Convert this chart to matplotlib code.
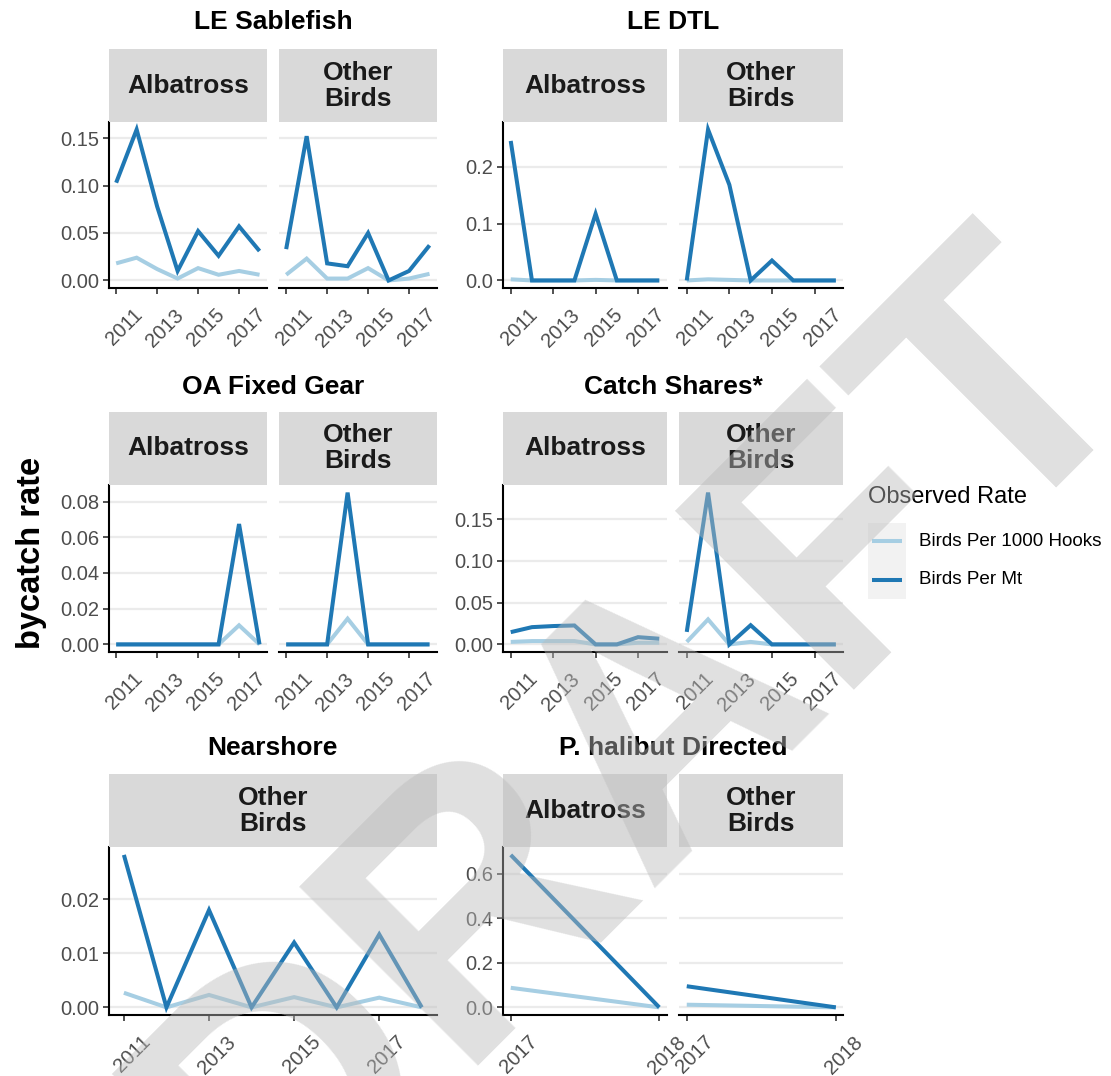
import matplotlib
matplotlib.use('Agg')
import matplotlib.pyplot as plt
from matplotlib.patches import Rectangle
from matplotlib.lines import Line2D
from matplotlib.transforms import ScaledTranslation

plt.rcParams['font.family'] = ['Liberation Sans', 'DejaVu Sans']

# ---------------- data ----------------
years = [2011, 2012, 2013, 2014, 2015, 2016, 2017, 2018]
halibut_years = [2017, 2018]

sable_alb_mt = [0.103, 0.159, 0.078, 0.010, 0.052, 0.026, 0.057, 0.031]
sable_alb_hooks = [0.018, 0.024, 0.012, 0.002, 0.013, 0.006, 0.010, 0.006]
sable_oth_mt = [0.033, 0.152, 0.018, 0.015, 0.050, 0.000, 0.010, 0.037]
sable_oth_hooks = [0.006, 0.023, 0.002, 0.002, 0.013, 0.000, 0.002, 0.007]

dtl_alb_mt = [0.245, 0.0, 0.0, 0.0, 0.117, 0.0, 0.0, 0.0]
dtl_alb_hooks = [0.002, 0.0, 0.0, 0.0, 0.001, 0.0, 0.0, 0.0]
dtl_oth_mt = [0.0, 0.265, 0.168, 0.0, 0.035, 0.0, 0.0, 0.0]
dtl_oth_hooks = [0.0, 0.002, 0.001, 0.0, 0.0, 0.0, 0.0, 0.0]

oa_alb_mt = [0.0, 0.0, 0.0, 0.0, 0.0, 0.0, 0.0674, 0.0]
oa_alb_hooks = [0.0, 0.0, 0.0, 0.0, 0.0, 0.0, 0.0107, 0.0]
oa_oth_mt = [0.0, 0.0, 0.0, 0.085, 0.0, 0.0, 0.0, 0.0]
oa_oth_hooks = [0.0, 0.0, 0.0, 0.0144, 0.0, 0.0, 0.0, 0.0]

cs_alb_mt = [0.0147, 0.0207, 0.022, 0.0227, 0.0, 0.0, 0.0087, 0.0068]
cs_alb_hooks = [0.003, 0.004, 0.004, 0.004, 0.0, 0.0, 0.002, 0.002]
cs_oth_mt = [0.015, 0.182, 0.0, 0.023, 0.0, 0.0, 0.0, 0.0]
cs_oth_hooks = [0.003, 0.030, 0.0, 0.003, 0.0, 0.0, 0.0, 0.0]

ns_oth_mt = [0.0282, 0.0, 0.018, 0.0, 0.012, 0.0, 0.0135, 0.0]
ns_oth_hooks = [0.0027, 0.0, 0.0023, 0.0, 0.0019, 0.0, 0.0018, 0.0]

hal_alb_mt = [0.685, 0.0]
hal_alb_hooks = [0.088, 0.0]
hal_oth_mt = [0.095, 0.0]
hal_oth_hooks = [0.012, 0.0]

series_labels = ['Birds Per 1000 Hooks', 'Birds Per Mt']
legend_title = 'Observed Rate'
y_title = 'bycatch rate'

year_ticks = [2011, 2013, 2015, 2017]
halibut_ticks = [2017, 2018]

sable_yticks = [0.00, 0.05, 0.10, 0.15]
dtl_yticks = [0.0, 0.1, 0.2]
oa_yticks = [0.00, 0.02, 0.04, 0.06, 0.08]
cs_yticks = [0.00, 0.05, 0.10, 0.15]
ns_yticks = [0.00, 0.01, 0.02]
hal_yticks = [0.0, 0.2, 0.4, 0.6]

# ---------------- style ----------------
W, H = 1111, 1076
DPI = 100
C_HOOKS = '#a6cee3'
C_MT = '#1f78b4'
STRIP = '#d9d9d9'
LW = 2.9

fig = plt.figure(figsize=(W / DPI, H / DPI), dpi=DPI)
fig.patch.set_facecolor('white')


def add_px_axes(x0, x1, y0, y1):
    return fig.add_axes([x0 / W, 1 - y1 / H, (x1 - x0) / W, (y1 - y0) / H])


def add_strip(x0, x1, y0, y1, label):
    sax = add_px_axes(x0, x1, y0, y1)
    sax.set_facecolor(STRIP)
    sax.set_xticks([])
    sax.set_yticks([])
    for s in sax.spines.values():
        s.set_visible(False)
    sax.text(0.5, 0.5, label, ha='center', va='center', fontsize=19,
             fontweight='bold', color='#1a1a1a', linespacing=1.12,
             transform=sax.transAxes)


def yrange(arrs):
    lo = min(min(a) for a in arrs)
    hi = max(max(a) for a in arrs)
    r = hi - lo
    return lo - 0.05 * r, hi + 0.05 * r


def panel(x0, x1, y0, y1, xs, hooks, mt, ylim, yticks, ydec, xticks,
          show_y, strip_label, strip_top):
    ax = add_px_axes(x0, x1, y0, y1)
    add_strip(x0, x1, strip_top, y0, strip_label)
    xr = xs[-1] - xs[0]
    ax.set_xlim(xs[0] - 0.05 * xr, xs[-1] + 0.05 * xr)
    ax.set_ylim(*ylim)
    ax.plot(xs, hooks, color=C_HOOKS, lw=LW, solid_capstyle='butt',
            solid_joinstyle='miter', zorder=3)
    ax.plot(xs, mt, color=C_MT, lw=LW, solid_capstyle='butt',
            solid_joinstyle='miter', zorder=4)
    ax.set_yticks(yticks)
    ax.grid(axis='y', color='#ebebeb', lw=1.6, zorder=0)
    ax.set_axisbelow(True)
    ax.spines['top'].set_visible(False)
    ax.spines['right'].set_visible(False)
    ax.spines['bottom'].set_linewidth(1.5)
    ax.spines['bottom'].set_color('black')
    if show_y:
        ax.spines['left'].set_linewidth(1.5)
        ax.spines['left'].set_color('black')
        ax.set_yticklabels([f'{v:.{ydec}f}' for v in yticks])
        ax.tick_params(axis='y', length=4.5, width=1.2, color='#333333',
                       labelsize=14.5, labelcolor='#4d4d4d', pad=2.5)
    else:
        ax.spines['left'].set_visible(False)
        ax.tick_params(axis='y', length=0, labelleft=False)
    ax.set_xticks(xticks)
    ax.set_xticklabels([str(v) for v in xticks])
    ax.tick_params(axis='x', length=4.5, width=1.2, color='#333333',
                   labelsize=14.5, labelcolor='#4d4d4d', pad=8)
    off = ScaledTranslation(17 / DPI, 0, fig.dpi_scale_trans)
    for lab in ax.get_xticklabels():
        lab.set_rotation(45)
        lab.set_ha('right')
        lab.set_va('top')
        lab.set_rotation_mode('anchor')
        lab.set_transform(lab.get_transform() + off)
    return ax


def group_title(xc, yc, text):
    fig.text(xc / W, 1 - yc / H, text, ha='center', va='center',
             fontsize=19, fontweight='bold', color='black')


# column pixel extents
G1L = (109, 266.7)
G1R = (279, 436.7)
G2L = (503.3, 666.7)
G2R = (679.3, 843.3)
ROW1 = (49.3, 122, 288)
ROW2 = (411.7, 485, 652)
ROW3 = (774.3, 847.3, 1015)

# Row 1
yl = yrange([sable_alb_mt, sable_alb_hooks, sable_oth_mt, sable_oth_hooks])
panel(*G1L, ROW1[1], ROW1[2], years, sable_alb_hooks, sable_alb_mt, yl,
      sable_yticks, 2, year_ticks, True, 'Albatross', ROW1[0])
panel(*G1R, ROW1[1], ROW1[2], years, sable_oth_hooks, sable_oth_mt, yl,
      sable_yticks, 2, year_ticks, False, 'Other\nBirds', ROW1[0])
group_title((G1L[0] + G1R[1]) / 2, 22, 'LE Sablefish')

yl = yrange([dtl_alb_mt, dtl_alb_hooks, dtl_oth_mt, dtl_oth_hooks])
panel(*G2L, ROW1[1], ROW1[2], years, dtl_alb_hooks, dtl_alb_mt, yl,
      dtl_yticks, 1, year_ticks, True, 'Albatross', ROW1[0])
panel(*G2R, ROW1[1], ROW1[2], years, dtl_oth_hooks, dtl_oth_mt, yl,
      dtl_yticks, 1, year_ticks, False, 'Other\nBirds', ROW1[0])
group_title((G2L[0] + G2R[1]) / 2, 22, 'LE DTL')

# Row 2
yl = yrange([oa_alb_mt, oa_alb_hooks, oa_oth_mt, oa_oth_hooks])
panel(*G1L, ROW2[1], ROW2[2], years, oa_alb_hooks, oa_alb_mt, yl,
      oa_yticks, 2, year_ticks, True, 'Albatross', ROW2[0])
panel(*G1R, ROW2[1], ROW2[2], years, oa_oth_hooks, oa_oth_mt, yl,
      oa_yticks, 2, year_ticks, False, 'Other\nBirds', ROW2[0])
group_title((G1L[0] + G1R[1]) / 2, 387, 'OA Fixed Gear')

yl = yrange([cs_alb_mt, cs_alb_hooks, cs_oth_mt, cs_oth_hooks])
panel(*G2L, ROW2[1], ROW2[2], years, cs_alb_hooks, cs_alb_mt, yl,
      cs_yticks, 2, year_ticks, True, 'Albatross', ROW2[0])
panel(*G2R, ROW2[1], ROW2[2], years, cs_oth_hooks, cs_oth_mt, yl,
      cs_yticks, 2, year_ticks, False, 'Other\nBirds', ROW2[0])
group_title((G2L[0] + G2R[1]) / 2, 387, 'Catch Shares*')

# Row 3
yl = yrange([ns_oth_mt, ns_oth_hooks])
panel(G1L[0], G1R[1], ROW3[1], ROW3[2], years, ns_oth_hooks, ns_oth_mt, yl,
      ns_yticks, 2, year_ticks, True, 'Other\nBirds', ROW3[0])
group_title((G1L[0] + G1R[1]) / 2, 748, 'Nearshore')

yl = yrange([hal_alb_mt, hal_alb_hooks, hal_oth_mt, hal_oth_hooks])
panel(*G2L, ROW3[1], ROW3[2], halibut_years, hal_alb_hooks, hal_alb_mt, yl,
      hal_yticks, 1, halibut_ticks, True, 'Albatross', ROW3[0])
panel(*G2R, ROW3[1], ROW3[2], halibut_years, hal_oth_hooks, hal_oth_mt, yl,
      hal_yticks, 1, halibut_ticks, False, 'Other\nBirds', ROW3[0])
group_title((G2L[0] + G2R[1]) / 2, 748, 'P. halibut Directed')

# y axis title
fig.text(32 / W, 1 - 553 / H, y_title, rotation=90, ha='center', va='center',
         fontsize=23.5, fontweight='bold', color='black')

# legend (drawn in a full-figure overlay axes in pixel coordinates)
lax = fig.add_axes([0, 0, 1, 1], zorder=5)
lax.set_xlim(0, W)
lax.set_ylim(H, 0)
lax.axis('off')
lax.patch.set_alpha(0)
lax.text(868, 497, legend_title, ha='left', va='center', fontsize=17,
         color='black')
lax.add_patch(Rectangle((868, 523), 38, 76, facecolor='#f2f2f2',
                        edgecolor='none'))
for yy, col, lab in [(541, C_HOOKS, series_labels[0]),
                     (580, C_MT, series_labels[1])]:
    lax.add_line(Line2D([872, 902], [yy, yy], color=col, lw=LW,
                        solid_capstyle='butt'))
    lax.text(919, yy, lab, ha='left', va='center', fontsize=13.6,
             color='black')

# DRAFT watermark
fig.text(640 / W, 1 - 745 / H, 'DRAFT', rotation=45, ha='center',
         va='center', rotation_mode='anchor', fontsize=265,
         fontweight='bold', color=(0.73, 0.73, 0.73), alpha=0.45, zorder=100)

fig.savefig('out.png', dpi=DPI, facecolor='white')
